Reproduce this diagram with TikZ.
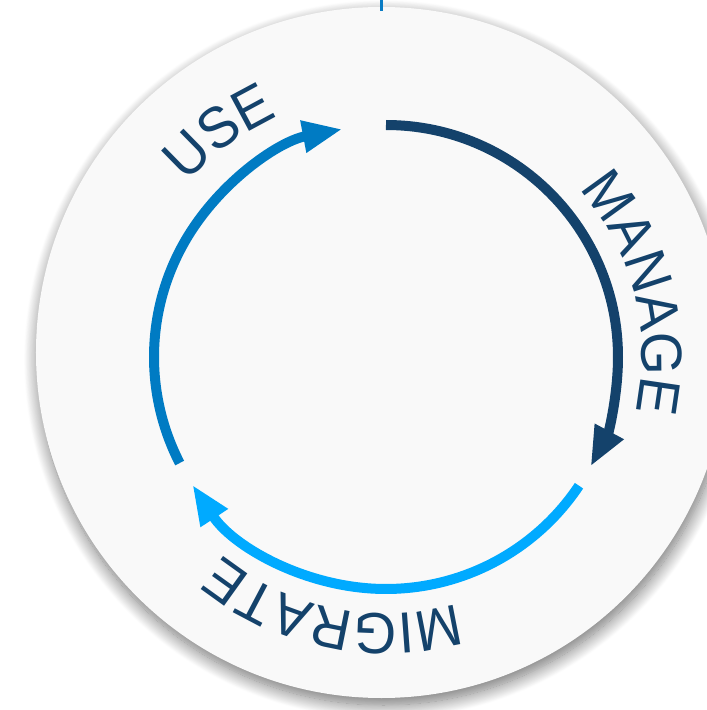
\documentclass[tikz,border=0pt]{standalone}
\usepackage{fontspec}
\newfontfamily\labelfont[FakeStretch=0.95]{Liberation Sans}
\usetikzlibrary{arrows.meta,decorations.text,shadows.blur}
\definecolor{ink}{HTML}{14426B}
\definecolor{useblue}{HTML}{007BC3}
\definecolor{migcyan}{HTML}{00AAFF}
\definecolor{discfill}{HTML}{F9F9F9}
\definecolor{linkblue}{HTML}{0A7CC4}
\begin{document}
\begin{tikzpicture}[x=1pt,y=1pt,
  cyclearc/.style={line width=10pt, line cap=butt, -{Triangle[length=40pt,width=30pt]}},
  ringlabel/.style={decorate, decoration={text along path, text align=center,
    text={|\labelfont\fontsize{58pt}{60pt}\selectfont\color{ink}|#1}}}
]
\useasboundingbox (-386,-353) rectangle (321,357);
% background disc with a soft drop shadow
\node[circle, inner sep=0pt, minimum size=691pt, fill=discfill,
  blur shadow={shadow xshift=2pt, shadow yshift=-7pt, shadow blur radius=14pt,
    shadow blur steps=20, shadow opacity=55}]
  (disc) at (-4.5,4.5) {};
% incoming link at the top
\coordinate (feed) at (-4.5,357);
\draw[linkblue, line width=2.4pt] (feed) -- ([yshift=-4pt]disc.north);
% the three stages of the cycle
\draw[cyclearc, ink] (90:232) arc[start angle=90, end angle=-28.2, radius=232];
\draw[cyclearc, migcyan] (-33.7:232) arc[start angle=-33.7, end angle=-146.6, radius=232];
\draw[cyclearc, useblue] (207.2:232) arc[start angle=207.2, end angle=100.8, radius=232];
% curved stage labels
\path[ringlabel=MANAGE] (64.3:256) arc[start angle=64.3, end angle=-35.7, radius=256];
\path[ringlabel=MIGRATE] (-51.8:257) arc[start angle=-51.8, end angle=-151.8, radius=257];
\path[ringlabel=USE] (166.5:264) arc[start angle=166.5, end angle=86.5, radius=264];
\end{tikzpicture}
\end{document}
